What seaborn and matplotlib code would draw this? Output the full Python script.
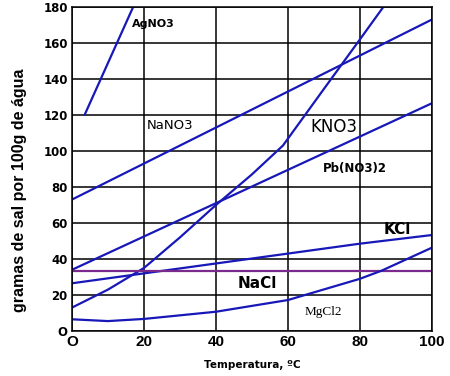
import matplotlib
matplotlib.use("Agg")
import matplotlib.pyplot as plt
import seaborn as sns
import pandas as pd

# curvas de solubilidade (g de sal / 100 g de agua)
agno3_t = [3.5, 17, 20]
agno3_s = [120, 180, 194]
nano3_t = [0, 20, 40, 60, 80, 100]
nano3_s = [73, 93, 113, 133, 153, 173]
kno3_t = [0, 10, 20, 30, 40, 50, 58.6, 70, 80, 86.5, 90]
kno3_s = [13, 23, 35, 52, 70, 87, 103, 134.5, 162, 180, 190]
pbno3_t = [0, 20, 40, 60, 80, 100]
pbno3_s = [34, 52.5, 71, 89.5, 108, 126.5]
kcl_t = [0, 20, 40, 60, 80, 100]
kcl_s = [26.5, 32, 37.5, 43, 48.5, 53.3]
nacl_t = [0, 100]
nacl_s = [33.5, 33.5]
mgcl2_t = [0, 10, 20, 40, 60, 80, 86, 100]
mgcl2_s = [6.5, 5.5, 6.7, 10.7, 17.2, 29, 33.5, 46.3]

series = {
    "AgNO3": (agno3_t, agno3_s),
    "NaNO3": (nano3_t, nano3_s),
    "KNO3": (kno3_t, kno3_s),
    "Pb(NO3)2": (pbno3_t, pbno3_s),
    "KCl": (kcl_t, kcl_s),
    "NaCl": (nacl_t, nacl_s),
    "MgCl2": (mgcl2_t, mgcl2_s),
}
rows = []
for nome, (t, s) in series.items():
    for ti, si in zip(t, s):
        rows.append({"sal": nome, "temp": ti, "sol": si})
df = pd.DataFrame(rows)

azul = "#1818b8"
cores = {k: azul for k in series}
cores["NaCl"] = "#7a2a8c"

sns.set_style("white")
plt.rcParams["font.family"] = ["DejaVu Sans"]
plt.rcParams["text.color"] = "black"
plt.rcParams["axes.labelcolor"] = "black"
plt.rcParams["xtick.color"] = "black"
plt.rcParams["ytick.color"] = "black"

fig = plt.figure(figsize=(4.5, 3.76), dpi=100)
ax = fig.add_axes([0.16, 0.1197, 0.8, 0.862])

sns.lineplot(data=df, x="temp", y="sol", hue="sal", units="sal", estimator=None,
             palette=cores, legend=False, linewidth=1.6, sort=False, ax=ax)

ax.set_xlim(0, 100)
ax.set_ylim(0, 180)
ax.set_xticks(range(0, 101, 20))
ax.set_yticks(range(0, 181, 20))
ax.set_xticklabels(["O", "20", "40", "60", "80", "100"], fontsize=11,
                   fontweight="bold", family="Liberation Sans")
ax.set_yticklabels(["O"] + [str(v) for v in range(20, 181, 20)], fontsize=8.5,
                   fontweight="bold")
ax.tick_params(length=0, pad=3, colors="black")
ax.grid(True, color="black", linewidth=1.1)
ax.set_axisbelow(True)
for sp in ax.spines.values():
    sp.set_color("black")
    sp.set_linewidth(1.1)

ax.set_xlabel("Temperatura, ºC", fontsize=7.5, fontweight="bold", labelpad=8)
ax.set_ylabel("gramas de sal por 100g de água", fontsize=11.5,
              fontweight="bold", family="Liberation Sans")
ax.yaxis.set_label_coords(-0.125, 0.435)

ax.text(16.7, 170.5, "AgNO3", fontsize=8, fontweight="bold", va="center")
ax.text(20.7, 114.4, "NaNO3", fontsize=9.5, va="center")
ax.text(66.1, 113.5, "KNO3", fontsize=12, va="center")
ax.text(69.6, 90, "Pb(NO3)2", fontsize=8.5, fontweight="bold", va="center")
ax.text(86.5, 56.1, "KCl", fontsize=11, fontweight="bold", va="center")
ax.text(45.9, 26.5, "NaCl", fontsize=11, fontweight="bold", va="center")
ax.text(64.7, 10.4, "MgCl2", fontsize=9.5, family="Liberation Serif", va="center")

fig.savefig("out.png", dpi=100)
